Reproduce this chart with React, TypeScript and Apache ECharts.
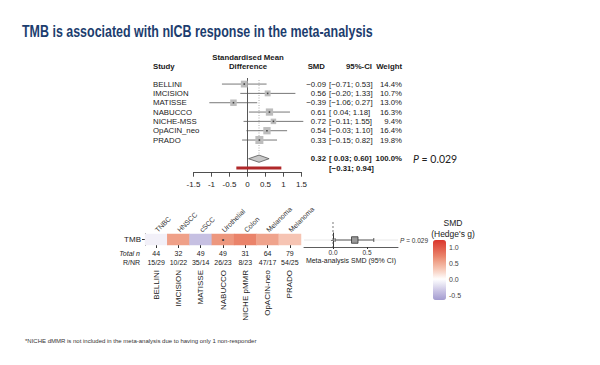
import React, { useEffect, useRef } from 'react';
import * as echarts from 'echarts';

// ---------- data ----------
const studies = ['BELLINI', 'IMCISION', 'MATISSE', 'NABUCCO', 'NICHE-MSS', 'OpACIN_neo', 'PRADO'];
const smd = [-0.09, 0.56, -0.39, 0.61, 0.72, 0.54, 0.33];
const ciLower = [-0.71, -0.2, -1.06, 0.04, -0.11, -0.03, -0.15];
const ciUpper = [0.53, 1.33, 0.27, 1.18, 1.55, 1.1, 0.82];
const weights = [14.4, 10.7, 13.0, 16.3, 9.4, 16.4, 19.8];
const pooledSMD = [0.32, 0.03, 0.6];
const pooledWeight = [100.0];
const predInterval = [-0.31, 0.94];
const pValue = '0.029';

const heatStudies = ['BELLINI', 'IMCISION', 'MATISSE', 'NABUCCO', 'NICHE pMMR', 'OpACIN-neo', 'PRADO'];
const cancerTypes = ['TNBC', 'HNSCC', 'cSCC', 'Urothelial', 'Colon', 'Melanoma', 'Melanoma'];
const totalN = [44, 32, 49, 49, 31, 64, 79];
const respNonResp = ['15/29', '10/22', '35/14', '26/23', '8/23', '47/17', '54/25'];
const metaTicks = [0, 0.5];
const legendTicks = [1.0, 0.5, 0.0, -0.5];

// ---------- styling ----------
const FONT = "'Liberation Sans', Arial, sans-serif";
const TXT = '#1a1a1a';
const legendMin = -0.65;
const legendMax = 1.22;
const colorStops: [number, string][] = [
  [-0.65, '#A39BD0'],
  [-0.39, '#C6C0E2'],
  [0, '#FFFFFF'],
  [0.33, '#F6C4B2'],
  [0.56, '#EFA088'],
  [0.72, '#EA836A'],
  [1.22, '#DA352C'],
];
const hex2rgb = (h: string) => [1, 3, 5].map((k) => parseInt(h.slice(k, k + 2), 16));
const colorAt = (v: number) => {
  for (let k = 0; k < colorStops.length - 1; k++) {
    const [v0, c0] = colorStops[k];
    const [v1, c1] = colorStops[k + 1];
    if (v <= v1 || k === colorStops.length - 2) {
      const t = Math.max(0, Math.min(1, (v - v0) / (v1 - v0)));
      const a = hex2rgb(c0), b = hex2rgb(c1);
      const c = a.map((x, j) => Math.round(x + (b[j] - x) * t));
      return `rgb(${c[0]},${c[1]},${c[2]})`;
    }
  }
  return '#fff';
};
const palette = Array.from({ length: 60 }, (_, k) => colorAt(legendMin + (k / 59) * (legendMax - legendMin)));

const fmtNum = (v: number) => (v < 0 ? '\u2212' : '') + Math.abs(v).toFixed(2);
const fmtCI = (lo: number, hi: number) =>
  `[${lo < 0 ? '\u2212' : ' '}${Math.abs(lo).toFixed(2)}; ${hi < 0 ? '\u2212' : ''}${Math.abs(hi).toFixed(2)}]`;

const txt = (text: string, x: number, y: number, align: string, extra: any = {}) => ({
  type: 'text',
  style: { text, x, y, align, verticalAlign: 'middle', fill: TXT, fontSize: 7.8, fontFamily: FONT, ...extra },
});

export default function App() {
  const ref = useRef<HTMLDivElement>(null);
  useEffect(() => {
    if (!ref.current) return;
    const chart = echarts.init(ref.current, null, { renderer: 'svg' });

    const legendTop = 240, legendH = 60, legendLeft = 433, legendW = 13;
    const legendY = (v: number) => legendTop + ((legendMax - v) / (legendMax - legendMin)) * legendH;

    const option: any = {
      animation: false,
      backgroundColor: '#ffffff',
      textStyle: { fontFamily: FONT },
      grid: [
        { left: 193.5, width: 108, top: 78, height: 94.7, outerBoundsMode: 'none' },
        { left: 145, width: 156, top: 234, height: 11, outerBoundsMode: 'none' },
        { left: 304, width: 94, top: 233, height: 14, outerBoundsMode: 'none' },
      ],
      xAxis: [
        {
          gridIndex: 0, type: 'value', min: -1.5, max: 1.5, interval: 0.5,
          axisLine: { show: true, onZero: false, lineStyle: { color: '#222', width: 0.8 } },
          axisTick: { show: true, length: 4, lineStyle: { color: '#222', width: 0.8 } },
          axisLabel: {
            fontSize: 8, margin: 8, color: TXT, fontFamily: FONT, showMinLabel: true, showMaxLabel: true,
            formatter: (v: number) => (v < 0 ? '-' : '') + String(Math.abs(v)),
          },
          splitLine: { show: false },
        },
        {
          gridIndex: 1, type: 'category', position: 'bottom', data: heatStudies,
          axisLine: { show: false },
          axisTick: { show: true, alignWithLabel: true, length: 3, lineStyle: { color: '#333' } },
          axisLabel: {
            interval: 0, fontSize: 7, lineHeight: 9, margin: 4, color: '#222', fontFamily: FONT,
            formatter: (_v: string, i: number) => `${totalN[i]}\n${respNonResp[i]}`,
          },
        },
        {
          gridIndex: 1, type: 'category', position: 'top', data: heatStudies,
          axisLine: { show: false }, axisTick: { show: false },
          axisLabel: {
            interval: 0, rotate: -45, fontSize: 7, margin: 3, color: '#333', fontFamily: FONT,
            formatter: (_v: string, i: number) => cancerTypes[i],
          },
        },
        {
          gridIndex: 2, type: 'value', min: -0.4265, max: 0.956,
          axisLine: { show: true, onZero: false, lineStyle: { color: '#333', width: 0.8 } },
          axisTick: { show: true, length: 2, customValues: metaTicks, lineStyle: { color: '#333' } },
          axisLabel: {
            customValues: metaTicks, fontSize: 6.5, margin: 2, color: '#333', fontFamily: FONT,
            formatter: (v: number) => v.toFixed(1),
          },
          splitLine: { show: false },
          name: 'Meta-analysis SMD (95% CI)', nameLocation: 'middle', nameGap: 10,
          nameTextStyle: { fontSize: 7, color: '#222', fontFamily: FONT },
        },
      ],
      yAxis: [
        { gridIndex: 0, type: 'value', min: 0.35, max: 10.5, inverse: true, show: false },
        {
          gridIndex: 1, type: 'category', data: ['TMB'],
          axisLine: { show: true, lineStyle: { color: '#333' } },
          axisTick: { show: true, alignWithLabel: true, length: 3, lineStyle: { color: '#333' } },
          axisLabel: { fontSize: 8, margin: 4, color: '#222', fontFamily: FONT },
        },
        {
          gridIndex: 2, type: 'category', data: ['TMB'],
          axisLine: { show: true, lineStyle: { color: '#333' } },
          axisTick: { show: true, alignWithLabel: true, length: 2, lineStyle: { color: '#333' } },
          axisLabel: { show: false },
        },
      ],
      visualMap: {
        type: 'continuous', min: legendMin, max: legendMax, seriesIndex: 4, dimension: 2,
        inRange: { color: palette }, show: true, calculable: false,
        left: legendLeft, top: legendTop, itemWidth: legendW, itemHeight: legendH, padding: 0,
      },
      series: [
        // reference lines
        {
          type: 'custom', xAxisIndex: 0, yAxisIndex: 0, data: [[1, pooledSMD[0]]], encode: { x: 1, y: 0 }, z: 1,
          renderItem: (params: any, api: any) => {
            const cs = params.coordSys;
            const x0 = api.coord([0, 1])[0];
            const xp = api.coord([api.value(1), 1])[0];
            const yEnd = api.coord([0, 9])[1] - 4;
            return {
              type: 'group',
              children: [
                { type: 'line', shape: { x1: x0, y1: cs.y, x2: x0, y2: cs.y + cs.height }, style: { stroke: '#444', lineWidth: 0.9 } },
                { type: 'line', shape: { x1: xp, y1: cs.y + 2, x2: xp, y2: yEnd }, style: { stroke: '#9a9a9a', lineWidth: 0.8, lineDash: [1, 1.5] } },
              ],
            };
          },
        },
        // studies
        {
          type: 'custom', xAxisIndex: 0, yAxisIndex: 0, z: 2,
          data: studies.map((_, i) => [i + 1, smd[i], ciLower[i], ciUpper[i], weights[i]]),
          encode: { x: 1, y: 0 },
          renderItem: (params: any, api: any) => {
            const i = params.dataIndex;
            const row = api.value(0), est = api.value(1), lo = api.value(2), hi = api.value(3), w = api.value(4);
            const pE = api.coord([est, row]), pL = api.coord([lo, row]), pH = api.coord([hi, row]);
            const y = pE[1];
            const s = 1.8 * Math.sqrt(w);
            return {
              type: 'group',
              children: [
                { type: 'line', shape: { x1: pL[0], y1: y, x2: pH[0], y2: y }, style: { stroke: '#555', lineWidth: 0.8 } },
                { type: 'rect', shape: { x: pE[0] - s / 2, y: y - s / 2, width: s, height: s }, style: { fill: '#BDBDBD' } },
                { type: 'rect', shape: { x: pE[0] - 0.8, y: y - 0.8, width: 1.6, height: 1.6 }, style: { fill: '#444' } },
                txt(studies[i], 153, y, 'left'),
                txt(fmtNum(est), 326, y, 'right'),
                txt(fmtCI(lo, hi), 329, y, 'left'),
                txt(`${w.toFixed(1)}%`, 402, y, 'right'),
              ],
            };
          },
        },
        // pooled diamond
        {
          type: 'custom', xAxisIndex: 0, yAxisIndex: 0, z: 2,
          data: [[9, pooledSMD[0], pooledSMD[1], pooledSMD[2], pooledWeight[0]]],
          encode: { x: 1, y: 0 },
          renderItem: (_params: any, api: any) => {
            const row = api.value(0), est = api.value(1), lo = api.value(2), hi = api.value(3), w = api.value(4);
            const pE = api.coord([est, row]), pL = api.coord([lo, row]), pH = api.coord([hi, row]);
            const y = pE[1], h = 3.6;
            return {
              type: 'group',
              children: [
                {
                  type: 'polygon',
                  shape: { points: [[pL[0], y], [pE[0], y - h], [pH[0], y], [pE[0], y + h]] },
                  style: { fill: '#C8C8C8', stroke: '#555', lineWidth: 0.8 },
                },
                txt(fmtNum(est), 326, y, 'right', { fontWeight: 'bold' }),
                txt(fmtCI(lo, hi), 329, y, 'left', { fontWeight: 'bold' }),
                txt(`${w.toFixed(1)}%`, 402, y, 'right', { fontWeight: 'bold' }),
                {
                  type: 'text',
                  style: {
                    text: `{i|P} = ${pValue}`, x: 413, y, align: 'left', verticalAlign: 'middle',
                    fill: '#222', fontSize: 10.5, fontFamily: "Lato, 'Liberation Sans', sans-serif",
                    rich: { i: { fontStyle: 'italic', fontSize: 10.5, fontFamily: "Lato, 'Liberation Sans', sans-serif", fill: '#222' } },
                  },
                },
              ],
            };
          },
        },
        // prediction interval
        {
          type: 'custom', xAxisIndex: 0, yAxisIndex: 0, z: 2,
          data: [[10, predInterval[0], predInterval[1]]],
          encode: { x: 1, y: 0 },
          renderItem: (_params: any, api: any) => {
            const row = api.value(0), lo = api.value(1), hi = api.value(2);
            const pL = api.coord([lo, row]), pH = api.coord([hi, row]);
            const y = pL[1];
            return {
              type: 'group',
              children: [
                { type: 'rect', shape: { x: pL[0], y: y - 1.5, width: pH[0] - pL[0], height: 3 }, style: { fill: '#B0282A' } },
                txt(fmtCI(lo, hi), 329, y, 'left', { fontWeight: 'bold' }),
              ],
            };
          },
        },
        // heatmap
        {
          type: 'heatmap', xAxisIndex: 1, yAxisIndex: 1,
          data: smd.map((v, i) => [i, 0, v]),
          label: {
            show: true, fontSize: 7, color: '#333',
            formatter: (p: any) => (ciLower[p.dataIndex] > 0 || ciUpper[p.dataIndex] < 0 ? '\u2022' : ''),
          },
          itemStyle: { borderWidth: 0 },
        },
        // meta-analysis mini forest
        {
          type: 'custom', xAxisIndex: 3, yAxisIndex: 2,
          data: [[0, pooledSMD[0], pooledSMD[1], pooledSMD[2]]],
          encode: { x: 1, y: 0 },
          renderItem: (params: any, api: any) => {
            const cs = params.coordSys;
            const est = api.value(1), lo = api.value(2), hi = api.value(3);
            const pE = api.coord([est, 0]), pL = api.coord([lo, 0]), pH = api.coord([hi, 0]);
            const x0 = api.coord([0, 0])[0];
            const y = pE[1];
            const s = 6.5;
            return {
              type: 'group',
              children: [
                { type: 'line', shape: { x1: cs.x, y1: y, x2: cs.x + cs.width, y2: y }, style: { stroke: '#E2E2E2', lineWidth: 0.8 } },
                { type: 'line', shape: { x1: x0, y1: cs.y - 11, x2: x0, y2: cs.y + cs.height }, style: { stroke: '#555', lineWidth: 0.8, lineDash: [2, 2] } },
                { type: 'line', shape: { x1: pL[0], y1: y, x2: pH[0], y2: y }, style: { stroke: '#333', lineWidth: 0.8 } },
                { type: 'line', shape: { x1: pL[0], y1: y - 2, x2: pL[0], y2: y + 2 }, style: { stroke: '#333', lineWidth: 0.8 } },
                { type: 'line', shape: { x1: pH[0], y1: y - 2, x2: pH[0], y2: y + 2 }, style: { stroke: '#333', lineWidth: 0.8 } },
                { type: 'rect', shape: { x: pE[0] - s / 2, y: y - s / 2, width: s, height: s }, style: { fill: '#9a9a9a', stroke: '#333', lineWidth: 0.8 } },
                {
                  type: 'text',
                  style: {
                    text: `{i|P} = ${pValue}`, x: cs.x + cs.width + 2, y, align: 'left', verticalAlign: 'middle',
                    fill: '#333', fontSize: 6.5, fontFamily: FONT,
                    rich: { i: { fontStyle: 'italic', fontSize: 6.5, fontFamily: FONT, fill: '#333' } },
                  },
                },
              ],
            };
          },
        },
        // rotated study names under the heatmap
        {
          type: 'custom', xAxisIndex: 1, yAxisIndex: 1,
          data: heatStudies.map((_, i) => [i, 0]),
          encode: { x: 0, y: 1 },
          renderItem: (params: any, api: any) => {
            const cs = params.coordSys;
            const p = api.coord([api.value(0), 0]);
            return {
              type: 'text',
              x: p[0], y: cs.y + cs.height + 25, rotation: Math.PI / 2,
              style: {
                text: heatStudies[params.dataIndex], align: 'right', verticalAlign: 'middle',
                fontSize: 8, fill: '#222', fontFamily: FONT,
              },
            };
          },
        },
      ],
      graphic: [
        {
          type: 'text', x: 22, y: 31.5, scaleX: 0.755, scaleY: 1,
          style: { text: 'TMB is associated with nICB response in the meta-analysis', align: 'left', verticalAlign: 'middle', fill: '#1C3D6E', fontSize: 16.5, fontWeight: 'bold', fontFamily: FONT },
        },
        { type: 'text', x: 248, y: 57, style: { text: 'Standardised Mean', align: 'center', verticalAlign: 'middle', fontSize: 7.8, fontWeight: 'bold', fill: TXT, fontFamily: FONT } },
        { type: 'text', x: 248, y: 66, style: { text: 'Difference', align: 'center', verticalAlign: 'middle', fontSize: 7.8, fontWeight: 'bold', fill: TXT, fontFamily: FONT } },
        { type: 'text', x: 153, y: 66, style: { text: 'Study', align: 'left', verticalAlign: 'middle', fontSize: 7.8, fontWeight: 'bold', fill: TXT, fontFamily: FONT } },
        { type: 'text', x: 325, y: 66, style: { text: 'SMD', align: 'right', verticalAlign: 'middle', fontSize: 7.8, fontWeight: 'bold', fill: TXT, fontFamily: FONT } },
        { type: 'text', x: 372, y: 66, style: { text: '95%-CI', align: 'right', verticalAlign: 'middle', fontSize: 7.8, fontWeight: 'bold', fill: TXT, fontFamily: FONT } },
        { type: 'text', x: 402, y: 66, style: { text: 'Weight', align: 'right', verticalAlign: 'middle', fontSize: 7.8, fontWeight: 'bold', fill: TXT, fontFamily: FONT } },
        { type: 'text', x: 140, y: 253.5, style: { text: 'Total n', align: 'right', verticalAlign: 'middle', fontSize: 7, fontStyle: 'italic', fill: '#222', fontFamily: FONT } },
        { type: 'text', x: 140, y: 262.5, style: { text: 'R/NR', align: 'right', verticalAlign: 'middle', fontSize: 7, fill: '#222', fontFamily: FONT } },
        { type: 'text', x: 453, y: 223, style: { text: 'SMD', align: 'center', verticalAlign: 'middle', fontSize: 8.5, fill: '#222', fontFamily: FONT } },
        { type: 'text', x: 453, y: 233.5, style: { text: "(Hedge's g)", align: 'center', verticalAlign: 'middle', fontSize: 8.5, fill: '#222', fontFamily: FONT } },
        ...legendTicks.map((v) => ({
          type: 'text', x: legendLeft + legendW + 3, y: legendY(v),
          style: { text: v.toFixed(1), align: 'left', verticalAlign: 'middle', fontSize: 7, fill: '#444', fontFamily: FONT },
        })),
        {
          type: 'text', x: 25, y: 341,
          style: { text: '*NICHE dMMR is not included in the meta-analysis due to having only 1 non-responder', align: 'left', verticalAlign: 'middle', fontSize: 6, fill: '#333', fontFamily: FONT },
        },
      ],
    };

    chart.setOption(option);
    return () => chart.dispose();
  }, []);

  return <div ref={ref} style={{ position: 'absolute', left: 0, top: 0, width: 600, height: 365 }} />;
}
